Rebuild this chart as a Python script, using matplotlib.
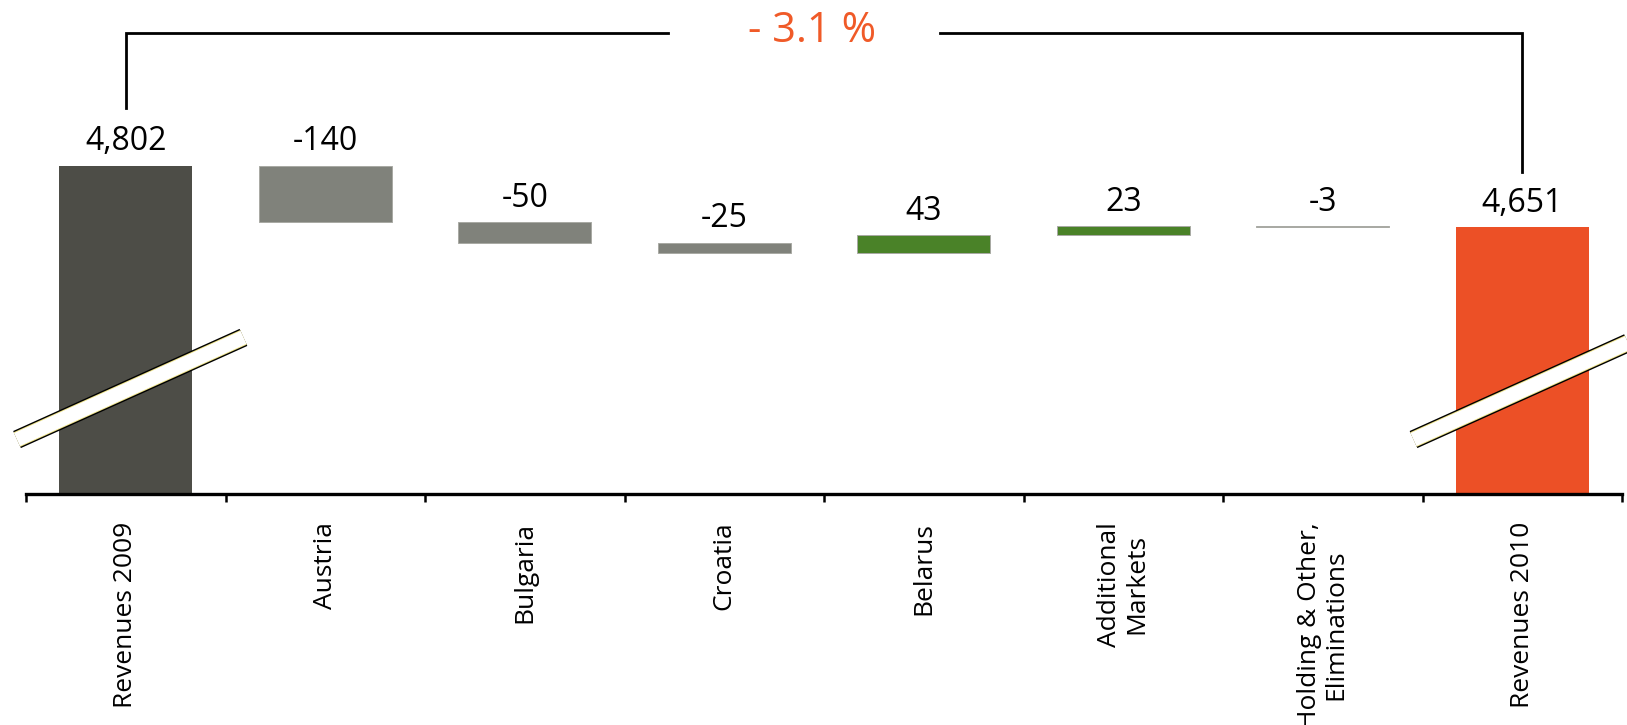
import numpy as np
import matplotlib.pyplot as plt

# Revenue bridge 2009 -> 2010 (EUR m)
categories = ["Revenues 2009", "Austria", "Bulgaria", "Croatia", "Belarus",
              "Additional\nMarkets", "Holding & Other,\nEliminations", "Revenues 2010"]
revenue_2009 = 4802
changes = [-140, -50, -25, 43, 23, -3]
revenue_2010 = 4651
change_label = "- 3.1 %"

C_START = "#4d4d47"
C_NEG = "#80827b"
C_POS = "#4a8228"
C_END = "#ec5026"

plt.rcParams['font.family'] = ['Open Sans', 'DejaVu Sans']

W, H = 1627, 725
fig = plt.figure(figsize=(W / 100, H / 100), dpi=100)
ax = fig.add_axes([26 / W, 1 - 494 / H, 1596 / W, 494 / H])

y_floor = 3990
ax.set_xlim(-0.5, 7.5)
ax.set_ylim(y_floor, 5212)

bar_w = 0.665
x = np.arange(len(categories))

# totals
ax.bar(0, revenue_2009 - y_floor, bottom=y_floor, width=bar_w, color=C_START, zorder=2)
ax.bar(7, revenue_2010 - y_floor, bottom=y_floor, width=bar_w, color=C_END, zorder=2)

# floating deltas
starts = revenue_2009 + np.concatenate([[0], np.cumsum(changes)[:-1]])
tops = [revenue_2009]
for i, (s, d) in enumerate(zip(starts, changes), start=1):
    ax.bar(i, d, bottom=s, width=bar_w, color=C_POS if d > 0 else C_NEG,
           edgecolor="#a9aaa4", linewidth=0.7, zorder=2)
    tops.append(max(s, s + d))
tops.append(revenue_2010)

labels = [f"{revenue_2009:,}"] + [f"{d}" for d in changes] + [f"{revenue_2010:,}"]
for xi, top, lab in zip(x, tops, labels):
    ax.annotate(lab, (xi, top), xytext=(0, 11), textcoords="offset points",
                ha="center", va="baseline", fontsize=23, fontweight=500,
                color="black")

# axis styling
for side in ("left", "right", "top"):
    ax.spines[side].set_visible(False)
ax.spines["bottom"].set_linewidth(2.4)
ax.set_yticks([])
ax.set_xticks(np.arange(-0.5, 8, 1))
ax.set_xticklabels([])
ax.tick_params(axis="x", which="major", length=6, width=1.8, direction="out")
ax.set_xticks(x, categories, minor=True, rotation=90, fontsize=19, fontweight=500,
              va="top", ha="center", multialignment="center", linespacing=1.1)
ax.tick_params(axis="x", which="minor", length=0, pad=20)

# bracket with overall change
y_br = 5130
ax.plot([0, 0, 2.72], [revenue_2009 + 143, y_br, y_br], color="black", lw=2,
        solid_joinstyle="miter", clip_on=False)
ax.plot([4.08, 7, 7], [y_br, y_br, revenue_2010 + 136], color="black", lw=2,
        solid_joinstyle="miter", clip_on=False)
ax.text(3.44, 5108, change_label, color="#f05a28", fontsize=30,
        ha="center", va="baseline")

# axis-break marks across the total bars
def axis_break(cx, cy, slope=222.6, left=0.545, right=0.59):
    xs = [cx - left, cx + right]
    ys = [cy - slope * left, cy + slope * right]
    for lw, col in ((13.5, "black"), (11.5, "#efe48a"), (10.2, "white")):
        ax.plot(xs, ys, color=col, lw=lw, solid_capstyle="butt",
                clip_on=False, zorder=5)

axis_break(0, 4246)
axis_break(7, 4246)

fig.savefig("out.png", dpi=100)
